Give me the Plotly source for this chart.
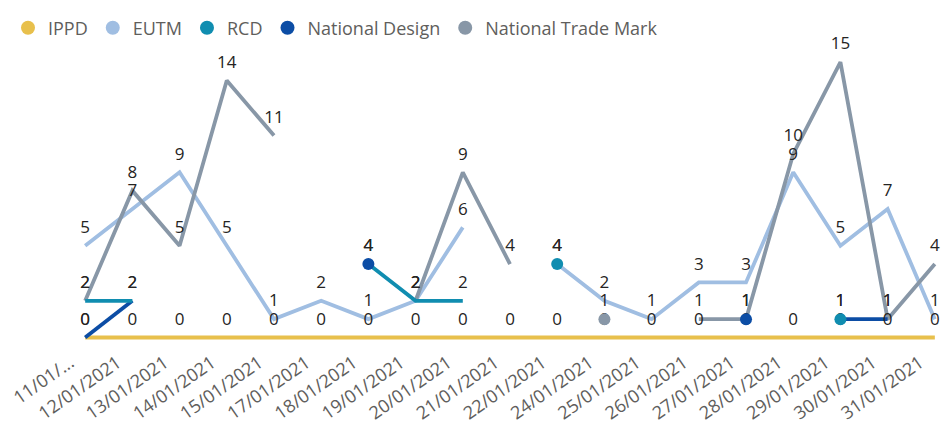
import plotly.graph_objects as go

categories = ["11/01/2021", "12/01/2021", "13/01/2021", "14/01/2021", "15/01/2021",
              "17/01/2021", "18/01/2021", "19/01/2021", "20/01/2021", "21/01/2021",
              "22/01/2021", "24/01/2021", "25/01/2021", "26/01/2021", "27/01/2021",
              "28/01/2021", "29/01/2021", "30/01/2021", "31/01/2021"]
tick_labels = ["11/01/..."] + categories[1:]

ippd = [0, 0, 0, 0, 0, 0, 0, 0, 0, 0, 0, 0, 0, 0, 0, 0, 0, 0, 0]
eutm = [5, 7, 9, 5, 1, 2, 1, 2, 6, None, 4, 2, 1, 3, 3, 9, 5, 7, 1]
rcd = [2, 2, None, None, None, None, 4, 2, 2, None, 4, None, None, None, None, None, 1, None, None]
national_design = [0, 2, None, None, None, None, 4, None, None, None, None, None, None, None, 1, None, 1, 1, None]
national_trade_mark = [2, 8, 5, 14, 11, None, None, 2, 9, 4, None, 1, None, 1, 1, 10, 15, 1, 4]

series = [
    ("IPPD", ippd, "#E8C04C"),
    ("EUTM", eutm, "#A0BEE2"),
    ("RCD", rcd, "#108DB0"),
    ("National Design", national_design, "#0C4DA5"),
    ("National Trade Mark", national_trade_mark, "#8897A7"),
]
line_order = ["IPPD", "EUTM", "National Trade Mark", "National Design", "RCD"]
lookup = {name: (vals, col) for name, vals, col in series}


def isolated(vals):
    out = []
    n = len(vals)
    for i, v in enumerate(vals):
        if v is None:
            out.append(False)
            continue
        left = i > 0 and vals[i - 1] is not None
        right = i < n - 1 and vals[i + 1] is not None
        out.append(not left and not right)
    return out


fig = go.Figure()

# legend entries (circles only)
for name, vals, col in series:
    fig.add_trace(go.Scatter(x=[None], y=[None], mode="markers", name=name,
                             marker=dict(color=col, size=14), showlegend=True,
                             hoverinfo="skip"))

# lines
for name in line_order:
    vals, col = lookup[name]
    fig.add_trace(go.Scatter(x=categories, y=vals, mode="lines", name=name,
                             line=dict(color=col, width=3.8), connectgaps=False,
                             showlegend=False, hoverinfo="skip"))

# markers for isolated points + data labels
for name in line_order:
    vals, col = lookup[name]
    iso = isolated(vals)
    fig.add_trace(go.Scatter(
        x=categories, y=vals, mode="markers+text", name=name,
        marker=dict(color=col, size=12, opacity=[1 if f else 0 for f in iso],
                    line=dict(width=0)),
        text=[None if v is None else str(v) for v in vals],
        textposition="top center",
        textfont=dict(family="Open Sans, sans-serif", size=17, color="#252423"),
        cliponaxis=False, showlegend=False, hoverinfo="skip"))

fig.update_layout(
    width=944, height=431,
    margin=dict(l=63, r=3, t=45, b=96, autoexpand=False),
    paper_bgcolor="white", plot_bgcolor="white",
    font=dict(family="Open Sans, sans-serif", color="#605E5C"),
    showlegend=True,
    legend=dict(orientation="h", xref="container", yref="container",
                x=0, y=1 - 20 / 431, xanchor="left", yanchor="middle",
                font=dict(size=18, color="#605E5C"),
                itemclick=False, tracegroupgap=0, bgcolor="rgba(0,0,0,0)"),
    xaxis=dict(type="category", categoryorder="array", categoryarray=categories,
               tickmode="array", tickvals=categories, ticktext=tick_labels,
               tickangle=-35, tickfont=dict(size=18, color="#605E5C"),
               ticklabelshift=-15, ticklabelstandoff=5,
               showgrid=False, zeroline=False, showline=False, ticks="",
               automargin=False, range=[-0.3, 18.3]),
    yaxis=dict(visible=False, range=[-0.3, 15.5], showgrid=False, zeroline=False,
               automargin=False),
)

fig.write_html("out.html")
